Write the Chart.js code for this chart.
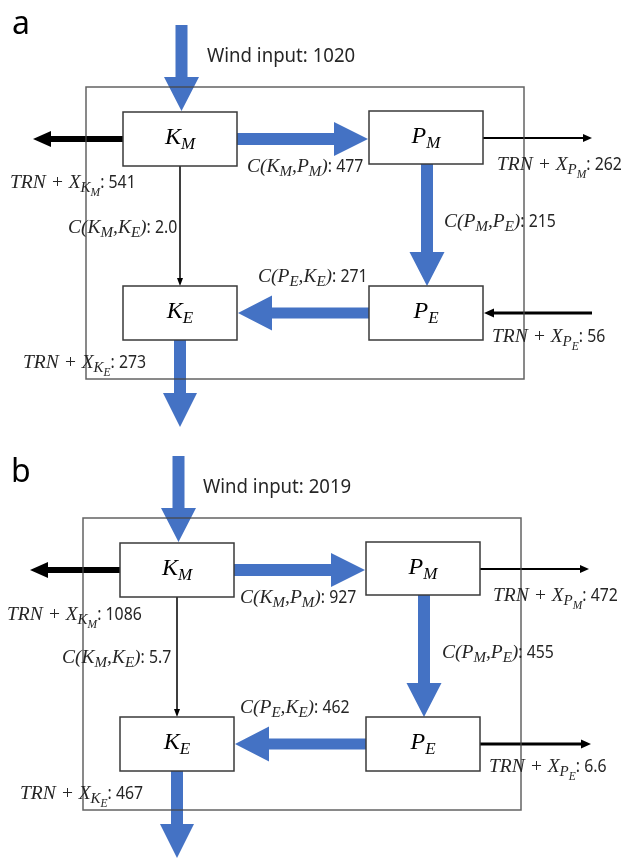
<!DOCTYPE html>
<html>
<head>
<meta charset="utf-8">
<script src="https://cdn.jsdelivr.net/npm/chart.js@4.4.0/dist/chart.umd.min.js"></script>
<style>
  html, body { margin: 0; padding: 0; background: #fff; }
  #wrap { width: 622px; height: 858px; }
</style>
</head>
<body>
<div id="wrap"><canvas id="c"></canvas></div>
<script>
// Energy cycle diagram, two panels (a, b)
const panels = ['a', 'b'];
const windInput = [1020, 2019];
const cKmPm = [477, 927];
const cKmKe = [2.0, 5.7];
const cPmPe = [215, 455];
const cPeKe = [271, 462];
const trnKm = [541, 1086];
const trnPm = [262, 472];
const trnKe = [273, 467];
const trnPe = [56, 6.6];
const trnPeInward = [true, false]; // arrow direction of TRN + X_PE

// layout (diagram units = pixels of the 622x858 page), panel a; panel b is shifted
const offsets = [[0, 0], [-3, 431]];
const boxes = {
  KM: [123, 112, 237, 166],
  PM: [369, 111, 483, 164],
  KE: [123, 286, 237, 340],
  PE: [369, 286, 483, 340]
};
const frame = [86, 87, 524, 379];
const labelPos = {
  letter: [[12, 34], [11, 482]],
  wind:   [[207, 62], [203, 493]],
  trnKm:  [[10, 188], [7, 620]],
  cKmPm:  [[247, 172], [240, 603]],
  trnPm:  [[497, 170], [493, 601]],
  cKmKe:  [[68, 233], [62, 663]],
  cPmPe:  [[444, 227], [442, 658]],
  cPeKe:  [[258, 282], [240, 713]],
  trnKe:  [[23, 368], [20, 799]],
  trnPe:  [[492, 342], [489, 772]]
};

const BLUE = '#4472C4';
const INK = '#262626';

const FONTS = {
  i:  { font: 'italic 19.5px "Liberation Serif"', dy: 0, sx: 1 },
  s:  { font: 'italic 15px "Liberation Serif"', dy: 4, sx: 1 },
  ss: { font: 'italic 11.5px "Liberation Serif"', dy: 7.5, sx: 1 },
  n:  { font: '18px "Noto Sans"', dy: 0, sx: 0.88 },
  bi: { font: 'italic 24px "Liberation Serif"', dy: 0, sx: 1 },
  bs: { font: 'italic 17px "Liberation Serif"', dy: 5, sx: 1 }
};

function fmt(v) {
  return v < 10 ? v.toFixed(1) : String(v);
}

function trnLabel(sub, subsub, v) {
  return [['TRN + X', 'i'], [sub, 's'], [subsub, 'ss'], [': ' + fmt(v), 'n']];
}
function cLabel(a, as, b, bs, v) {
  return [['C(' + a, 'i'], [as, 's'], [',' + b, 'i'], [bs, 's'], [')', 'i'], [': ' + fmt(v), 'n']];
}

function richWidth(ctx, parts) {
  let w = 0;
  for (const [t, k] of parts) {
    ctx.font = FONTS[k].font;
    w += ctx.measureText(t).width * FONTS[k].sx;
  }
  return w;
}

function drawRich(ctx, parts, x, y) {
  let cx = x;
  for (const [t, k] of parts) {
    const f = FONTS[k];
    ctx.font = f.font;
    ctx.save();
    ctx.translate(cx, y + f.dy);
    ctx.scale(f.sx, 1);
    ctx.fillText(t, 0, 0);
    ctx.restore();
    cx += ctx.measureText(t).width * f.sx;
  }
}

function arrow(ctx, x1, y1, x2, y2, shaft, headW, headL, color) {
  const dx = x2 - x1, dy = y2 - y1, len = Math.hypot(dx, dy);
  const ux = dx / len, uy = dy / len, nx = -uy, ny = ux;
  const bx = x2 - ux * headL, by = y2 - uy * headL;
  ctx.fillStyle = color;
  ctx.beginPath();
  ctx.moveTo(x1 + nx * shaft / 2, y1 + ny * shaft / 2);
  ctx.lineTo(bx + nx * shaft / 2, by + ny * shaft / 2);
  ctx.lineTo(bx + nx * headW / 2, by + ny * headW / 2);
  ctx.lineTo(x2, y2);
  ctx.lineTo(bx - nx * headW / 2, by - ny * headW / 2);
  ctx.lineTo(bx - nx * shaft / 2, by - ny * shaft / 2);
  ctx.lineTo(x1 - nx * shaft / 2, y1 - ny * shaft / 2);
  ctx.closePath();
  ctx.fill();
}

const cyclePlugin = {
  id: 'cycle',
  beforeDraw(chart) {
    const ctx = chart.ctx;
    ctx.save();
    ctx.fillStyle = '#fff';
    ctx.fillRect(0, 0, chart.width, chart.height);
    ctx.restore();
  },
  afterDatasetsDraw(chart) {
    const ctx = chart.ctx;
    const sx = chart.scales.x, sy = chart.scales.y;

    panels.forEach((name, p) => {
      const [ox, oy] = offsets[p];
      const X = v => sx.getPixelForValue(v + ox);
      const Y = v => sy.getPixelForValue(v + oy);
      const cx = b => (b[0] + b[2]) / 2, cy = b => (b[1] + b[3]) / 2;
      const { KM, PM, KE, PE } = boxes;
      ctx.save();

      // blue energy flows
      arrow(ctx, X(181.5), Y(25), X(181.5), Y(KM[1] - 1), 12, 35, 34, BLUE);
      arrow(ctx, X(KM[2]), Y(139), X(PM[0] - 1), Y(139), 12, 34, 34, BLUE);
      arrow(ctx, X(427), Y(PM[3]), X(427), Y(PE[1]), 12, 35, 34, BLUE);
      arrow(ctx, X(PE[0]), Y(cy(PE)), X(KE[2] + 1), Y(cy(PE)), 11, 35, 34, BLUE);
      arrow(ctx, X(cx(KE)), Y(KE[3]), X(cx(KE)), Y(427), 12, 34, 34, BLUE);

      // black flows
      arrow(ctx, X(KM[0]), Y(139), X(33), Y(139), 6, 16, 18, '#000');
      arrow(ctx, X(PM[2]), Y(138), X(592), Y(138), 2, 8, 9, '#000');
      arrow(ctx, X(cx(KM)), Y(KM[3]), X(cx(KM)), Y(KE[1]), 1.5, 6, 8, '#000');
      if (trnPeInward[p]) {
        arrow(ctx, X(592), Y(cy(PE)), X(PE[2] + 1), Y(cy(PE)), 3, 9, 10, '#000');
      } else {
        arrow(ctx, X(PE[2]), Y(cy(PE)), X(594), Y(cy(PE)), 3, 9, 10, '#000');
      }

      // outer frame
      ctx.strokeStyle = 'rgba(70,70,70,0.85)';
      ctx.lineWidth = 1.5;
      ctx.strokeRect(X(frame[0]), Y(frame[1]), X(frame[2]) - X(frame[0]), Y(frame[3]) - Y(frame[1]));

      // boxes
      const boxText = { KM: ['K', 'M'], PM: ['P', 'M'], KE: ['K', 'E'], PE: ['P', 'E'] };
      Object.keys(boxes).forEach(k => {
        const b = boxes[k];
        ctx.fillStyle = '#fff';
        ctx.fillRect(X(b[0]), Y(b[1]), X(b[2]) - X(b[0]), Y(b[3]) - Y(b[1]));
        ctx.strokeStyle = '#3a3a3a';
        ctx.lineWidth = 1.5;
        ctx.strokeRect(X(b[0]), Y(b[1]), X(b[2]) - X(b[0]), Y(b[3]) - Y(b[1]));
        const parts = [[boxText[k][0], 'bi'], [boxText[k][1], 'bs']];
        const w = richWidth(ctx, parts);
        ctx.fillStyle = '#000';
        drawRich(ctx, parts, X(cx(b)) - w / 2, Y(cy(b) + 5));
      });

      // labels
      const L = key => [labelPos[key][p][0], labelPos[key][p][1]];
      const at = (key, parts) => {
        const [lx, ly] = L(key);
        drawRich(ctx, parts, sx.getPixelForValue(lx), sy.getPixelForValue(ly));
      };
      ctx.fillStyle = '#000';
      ctx.font = '32px "Noto Sans"';
      ctx.fillText(name, sx.getPixelForValue(L('letter')[0]), sy.getPixelForValue(L('letter')[1]));
      ctx.fillStyle = INK;
      const wx = L('wind');
      ctx.font = '20px "Noto Sans"';
      ctx.save();
      ctx.translate(sx.getPixelForValue(wx[0]), sy.getPixelForValue(wx[1]));
      ctx.scale(0.93, 1);
      ctx.fillText('Wind input: ' + windInput[p], 0, 0);
      ctx.restore();

      at('trnKm', trnLabel('K', 'M', trnKm[p]));
      at('trnPm', trnLabel('P', 'M', trnPm[p]));
      at('trnKe', trnLabel('K', 'E', trnKe[p]));
      at('trnPe', trnLabel('P', 'E', trnPe[p]));
      at('cKmPm', cLabel('K', 'M', 'P', 'M', cKmPm[p]));
      at('cKmKe', cLabel('K', 'M', 'K', 'E', cKmKe[p]));
      at('cPmPe', cLabel('P', 'M', 'P', 'E', cPmPe[p]));
      at('cPeKe', cLabel('P', 'E', 'K', 'E', cPeKe[p]));

      ctx.restore();
    });
  }
};

new Chart(document.getElementById('c'), {
  type: 'scatter',
  data: { datasets: [{ data: [], pointRadius: 0 }] },
  options: {
    responsive: true,
    maintainAspectRatio: false,
    animation: false,
    layout: { padding: 0 },
    plugins: { legend: { display: false }, tooltip: { enabled: false } },
    scales: {
      x: { type: 'linear', min: 0, max: 622, display: false },
      y: { type: 'linear', min: 0, max: 858, reverse: true, display: false }
    }
  },
  plugins: [cyclePlugin]
});
</script>
</body>
</html>
